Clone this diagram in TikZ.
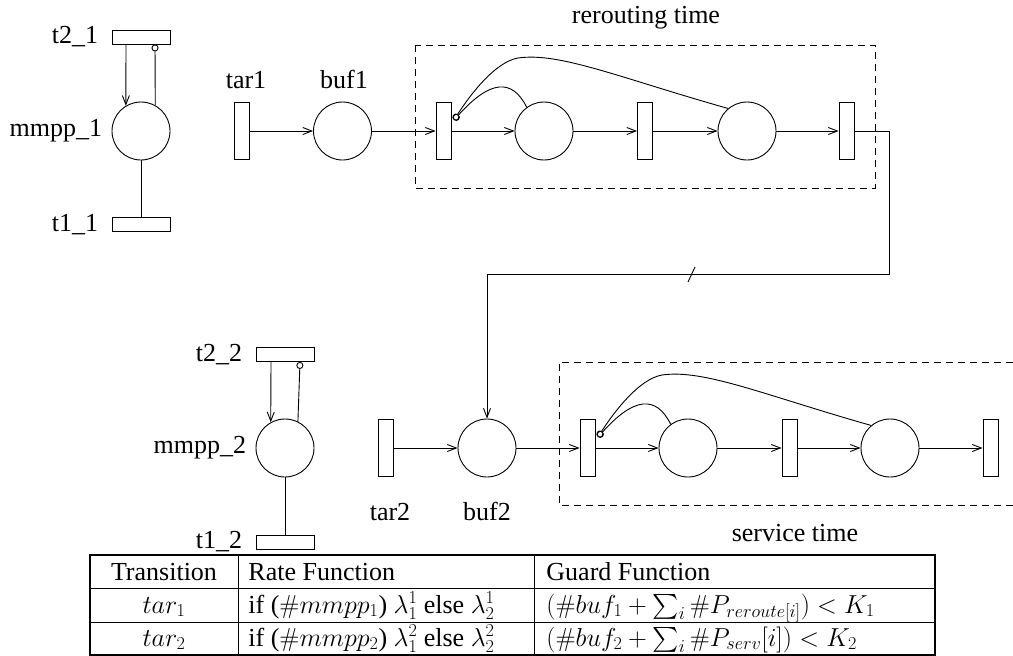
\documentclass[tikz,border=0pt]{standalone}
\usepackage{fix-cm}
\usepackage{amsmath}
\usepackage[no-math]{fontspec}
\setmainfont{Liberation Serif}
\usetikzlibrary{arrows.meta}
\begin{document}
\begin{tikzpicture}[x=1pt,y=-1pt,
  font=\rmfamily\fontsize{26}{31}\selectfont,
  line width=0.9pt,
  place/.style={circle, draw, minimum size=58pt, inner sep=0pt},
  vtrans/.style={rectangle, draw, minimum width=15pt, minimum height=57pt, inner sep=0pt},
  htrans/.style={rectangle, draw, minimum width=58pt, minimum height=14pt, inner sep=0pt},
  arc/.style={-{Straight Barb[length=9pt,width=7pt]}},
  inh/.style={-{Circle[open,length=7pt,width=7pt]}},
  lbl/.style={inner sep=0pt},
  dbox/.style={dash pattern=on 7pt off 5pt, line width=0.8pt},
  cell/.style={inner sep=0pt, anchor=base west},
  ccell/.style={inner sep=0pt, anchor=base}]
\useasboundingbox (0,0) rectangle (1013,656);

% ---------------- MMPP 1 ----------------
\node[htrans] (t21) at (141,37) {};
\node[place] (m1) at (141,131) {};
\node[htrans] (t11) at (141,224.5) {};
\node[lbl, anchor=east] (lt21) at ([xshift=-13pt]t21.west) {t2\_1};
\node[lbl, anchor=east] (lm1) at ([xshift=-9pt]m1.west) {mmpp\_1};
\node[lbl, anchor=east] (lt11) at ([xshift=-13pt]t11.west) {t1\_1};
\draw[arc] ([xshift=-15pt]t21.south) -- (m1.121);
\draw[inh] (m1.61) -- ([xshift=14pt]t21.south);
\draw (m1) -- (t11);

% ---------------- top chain ----------------
\node[vtrans] (tar1) at (241.5,131) {};
\node[place] (buf1) at (342.5,131) {};
\node[lbl, anchor=base] (ltar1) at (246,88) {tar1};
\node[lbl, anchor=base] (lbuf1) at (344,88) {buf1};
\node[vtrans] (T1) at (443.5,131) {};
\node[place] (P1) at (544,131) {};
\node[vtrans] (T2) at (645,131) {};
\node[place] (P2) at (747,131) {};
\node[vtrans] (T3) at (846.5,131) {};
\draw[dbox] (415,45) rectangle (875,188);
\node[lbl, anchor=base] (lrr) at (646,23) {rerouting time};

\draw[arc] (tar1) -- (buf1);
\draw[arc] (buf1) -- (T1);
\draw[arc] (T1) -- (P1);
\draw[arc] (P1) -- (T2);
\draw[arc] (T2) -- (P2);
\draw[arc] (P2) -- (T3);

\coordinate (i1) at (454,120);
\draw[inh] (P1.126) .. controls (512,78) and (490,80) .. (i1);
\draw[inh] (P2.130) .. controls (620,78) and (560,52) .. (518,58)
                   .. controls (495,62) and (470,95) .. (i1);

% ---------------- MMPP 2 ----------------
\node[htrans] (t22) at (285,354.5) {};
\node[place] (m2) at (285,448) {};
\node[htrans] (t12) at (285,542) {};
\node[lbl, anchor=east] (lt22) at ([xshift=-13pt]t22.west) {t2\_2};
\node[lbl, anchor=east] (lm2) at ([xshift=-9pt]m2.west) {mmpp\_2};
\node[lbl, anchor=east] (lt12) at ([xshift=-13pt]t12.west) {t1\_2};
\draw[arc] ([xshift=-14pt]t22.south) -- (m2.119);
\draw[inh] (m2.64) -- ([xshift=15pt]t22.south);
\draw (m2) -- (t12);

% ---------------- bottom chain ----------------
\node[vtrans] (tar2) at (386,448) {};
\node[place] (buf2) at (487,448) {};
\node[lbl, anchor=base] (ltar2) at (390,520) {tar2};
\node[lbl, anchor=base] (lbuf2) at (487,520) {buf2};
\node[vtrans] (S1) at (587.5,448) {};
\node[place] (Q1) at (688,448) {};
\node[vtrans] (S2) at (789.5,448) {};
\node[place] (Q2) at (890,448) {};
\node[vtrans] (S3) at (990.5,448) {};
\draw[dbox] (1013,362) -- (559,362) -- (559,505) -- (1013,505);
\node[lbl, anchor=base] (lsv) at (795,541) {service time};

\draw[arc] (tar2) -- (buf2);
\draw[arc] (buf2) -- (S1);
\draw[arc] (S1) -- (Q1);
\draw[arc] (Q1) -- (S2);
\draw[arc] (S2) -- (Q2);
\draw[arc] (Q2) -- (S3);

\coordinate (i2) at (598,437);
\draw[inh] (Q1.126) .. controls (656,395) and (634,397) .. (i2);
\draw[inh] (Q2.130) .. controls (764,395) and (704,369) .. (662,375)
                   .. controls (639,379) and (614,412) .. (i2);

% feedback from T3 to buf2
\coordinate (c1) at (889,274);
\draw[arc] (T3.east) -| (c1) -| (buf2.north);
\draw (688,282) -- (695,267);

% ---------------- table ----------------
\node[ccell] (h1) at (164,580) {Transition};
\node[cell] (h2) at (248,580) {Rate Function};
\node[cell] (h3) at (546,580) {Guard Function};
\node[ccell] (a1) at (164,613) {$tar_1$};
\node[cell] (a2) at (248,613) {if ($\#mmpp_1$) $\lambda^1_1$ else $\lambda^1_2$};
\node[cell] (a3) at (546,613) {$(\#buf_1+\sum_i \#P_{reroute[i]}) < K_1$};
\node[ccell] (b1) at (164,646) {$tar_2$};
\node[cell] (b2) at (248,646) {if ($\#mmpp_2$) $\lambda^2_1$ else $\lambda^2_2$};
\node[cell] (b3) at (546,646) {$(\#buf_2+\sum_i \#P_{serv}[i]) < K_2$};
\draw[line width=1.5pt] (90,555) rectangle (935,655);
\draw (90,588.5) -- (935,588.5);
\draw (90,622) -- (935,622);
\draw (238,555) -- (238,655);
\draw (534,555) -- (534,655);
\end{tikzpicture}
\end{document}
